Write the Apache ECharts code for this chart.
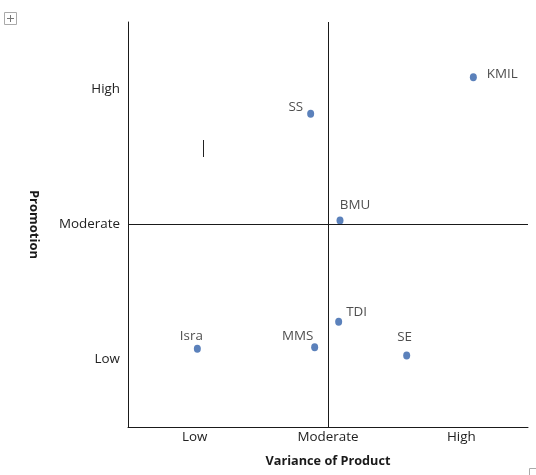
<!DOCTYPE html>
<html>
<head>
<meta charset="utf-8">
<script src="https://cdn.jsdelivr.net/npm/echarts@6/dist/echarts.min.js"></script>
<style>
  html, body { margin: 0; padding: 0; background: #fff; }
  #chart { width: 536px; height: 475px; }
</style>
</head>
<body>
<div id="chart"></div>
<script>
// Level names shown on both axes (1 = Low, 2 = Moderate, 3 = High)
const levelLabels = { 1: 'Low', 2: 'Moderate', 3: 'High' };

// Companies and their position on the variance / promotion scale
const companies = ['KMIL', 'SS', 'BMU', 'TDI', 'MMS', 'SE', 'Isra'];
const variance  = [3.09, 1.87, 2.09, 2.08, 1.90, 2.59, 1.02];
const promotion = [3.09, 2.82, 2.03, 1.28, 1.09, 1.03, 1.08];

// Where each company name sits relative to its dot
const labelPlacement = {
  KMIL: { position: 'right', offset: [5, -3] },
  SS:   { position: 'left',  offset: [1, -7] },
  BMU:  { position: 'top',   offset: [15, 0] },
  TDI:  { position: 'right', offset: [-1, -10] },
  MMS:  { position: 'top',   offset: [-17, 4] },
  SE:   { position: 'top',   offset: [-2, -3] },
  Isra: { position: 'top',   offset: [-6, 3] }
};

const FONT = 'Open Sans';
const points = companies.map((name, i) => ({
  name: name,
  value: [variance[i], promotion[i]],
  label: Object.assign({ show: true, formatter: '{b}' }, labelPlacement[name])
}));

const chart = echarts.init(document.getElementById('chart'), null, { renderer: 'canvas' });

chart.setOption({
  animation: false,
  grid: { left: 128, right: 8, top: 22, bottom: 48, containLabel: false },
  xAxis: {
    type: 'value', min: 0.5, max: 3.5, interval: 0.5,
    name: 'Variance of Product', nameLocation: 'middle', nameGap: 28,
    nameTextStyle: { fontFamily: FONT, fontWeight: 'bold', fontSize: 12.7, color: '#1a1a1a' },
    axisLine: { show: true, lineStyle: { color: '#1a1a1a', width: 1 } },
    axisTick: { show: false },
    splitLine: { show: false },
    axisLabel: {
      fontFamily: FONT, fontSize: 13.4, color: '#222', margin: 4,
      formatter: v => levelLabels[v] || ''
    }
  },
  yAxis: {
    type: 'value', min: 0.5, max: 3.5, interval: 0.5,
    name: 'Promotion', nameLocation: 'middle', nameGap: 88, nameRotate: -90,
    nameTextStyle: { fontFamily: FONT, fontWeight: 'bold', fontSize: 13, color: '#1a1a1a' },
    axisLine: { show: true, lineStyle: { color: '#1a1a1a', width: 1 } },
    axisTick: { show: false },
    splitLine: { show: false },
    axisLabel: {
      fontFamily: FONT, fontSize: 13.4, color: '#222', margin: 8,
      formatter: v => levelLabels[v] || ''
    }
  },
  series: [{
    type: 'scatter',
    data: points,
    symbol: 'circle',
    symbolSize: [7, 8],
    itemStyle: { color: '#3261AA' },
    label: { fontFamily: FONT, fontSize: 13.4, color: '#222' },
    markLine: {
      silent: true,
      symbol: 'none',
      label: { show: false },
      lineStyle: { color: '#1a1a1a', width: 1, type: 'solid' },
      data: [{ xAxis: 2 }, { yAxis: 2 }]
    }
  }],
  graphic: [
    // table move handle in the corner
    { type: 'rect', shape: { x: 4.5, y: 12.5, width: 12, height: 12 },
      style: { fill: '#fff', stroke: '#aaa', lineWidth: 1 } },
    { type: 'line', shape: { x1: 10.5, y1: 15, x2: 10.5, y2: 22 }, style: { stroke: '#777', lineWidth: 1 } },
    { type: 'line', shape: { x1: 7, y1: 18.5, x2: 14, y2: 18.5 }, style: { stroke: '#777', lineWidth: 1 } },
    // text cursor
    { type: 'line', shape: { x1: 203.5, y1: 140, x2: 203.5, y2: 157 }, style: { stroke: '#222', lineWidth: 1 } },
    // resize corner
    { type: 'polyline', shape: { points: [[529.5, 475], [529.5, 468.5], [536, 468.5]] },
      style: { stroke: '#aaa', fill: null, lineWidth: 1 } }
  ]
});
</script>
</body>
</html>
